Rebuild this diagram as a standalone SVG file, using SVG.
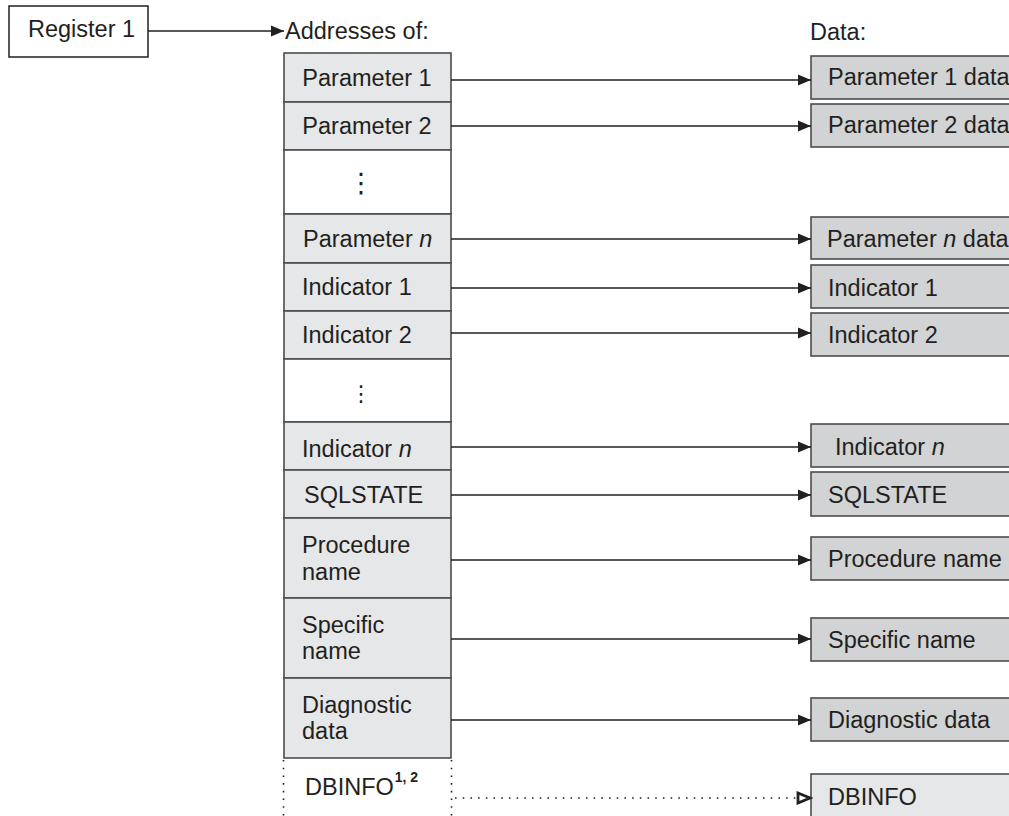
<svg xmlns="http://www.w3.org/2000/svg" width="1009" height="816" viewBox="0 0 1009 816">
<style>
text{font-family:"Liberation Sans",Arial,sans-serif;font-size:23.5px;fill:#231f20}
.l{fill:#e6e7e8;stroke:#4d4d4f;stroke-width:1.6}
.w{fill:#ffffff;stroke:#4d4d4f;stroke-width:1.6}
.r{fill:#d1d3d4;stroke:#4d4d4f;stroke-width:1.6}
.rl{fill:#e6e7e8;stroke:#4d4d4f;stroke-width:1.6}
.c{stroke:#231f20;stroke-width:1.5;fill:none;marker-end:url(#ah)}
.d{stroke:#231f20;stroke-width:1.6;fill:none;stroke-dasharray:1.6 6.1}
.sup{font-size:14px;font-weight:bold}
.el{font-family:"DejaVu Sans",sans-serif}
</style>
<defs>
<marker id="ah" markerUnits="userSpaceOnUse" markerWidth="14" markerHeight="12" refX="13" refY="6" orient="auto">
<path d="M0,0.5 L13,6 L0,11.5 z" fill="#231f20"/>
</marker>
<marker id="ho" markerUnits="userSpaceOnUse" markerWidth="17" markerHeight="14" refX="15" refY="7" orient="auto">
<path d="M2,2 L14,7 L2,12 z" fill="#ffffff" stroke="#231f20" stroke-width="2.8"/>
</marker>
</defs>
<rect width="1009" height="816" fill="#ffffff"/>

<g id="register1">
<rect x="9" y="6" width="139" height="51" fill="#ffffff" stroke="#231f20" stroke-width="1.5"/>
<text x="28" y="37">Register 1</text>
</g>
<g id="addresses-title"><text x="285" y="39">Addresses of:</text></g>
<g id="data-title"><text x="810" y="40">Data:</text></g>

<g id="addr-param1"><rect class="l" x="284" y="53" width="167" height="49"/><text x="367" y="86" text-anchor="middle">Parameter 1</text></g>
<g id="addr-param2"><rect class="l" x="284" y="102" width="167" height="48"/><text x="367" y="134" text-anchor="middle">Parameter 2</text></g>
<g id="addr-dots1"><rect class="w" x="284" y="150" width="167" height="64"/>
<text class="el" x="361" y="192" text-anchor="middle" style="font-size:27px">⋮</text></g>
<g id="addr-paramn"><rect class="l" x="284" y="214" width="167" height="49"/><text x="303" y="247">Parameter <tspan font-style="italic">n</tspan></text></g>
<g id="addr-ind1"><rect class="l" x="284" y="263" width="167" height="48"/><text x="302" y="295">Indicator 1</text></g>
<g id="addr-ind2"><rect class="l" x="284" y="311" width="167" height="48"/><text x="302" y="343">Indicator 2</text></g>
<g id="addr-dots2"><rect class="w" x="284" y="359" width="167" height="63"/>
<text class="el" x="361" y="401" text-anchor="middle" style="font-size:22px">⋮</text></g>
<g id="addr-indn"><rect class="l" x="284" y="422" width="167" height="48"/><text x="302" y="457">Indicator <tspan font-style="italic">n</tspan></text></g>
<g id="addr-sqlstate"><rect class="l" x="284" y="470" width="167" height="48"/><text x="304" y="503">SQLSTATE</text></g>
<g id="addr-procname"><rect class="l" x="284" y="518" width="167" height="80"/><text x="302" y="553">Procedure</text><text x="302" y="580">name</text></g>
<g id="addr-specname"><rect class="l" x="284" y="598" width="167" height="80"/><text x="302" y="633">Specific</text><text x="302" y="659">name</text></g>
<g id="addr-diag"><rect class="l" x="284" y="678" width="167" height="80"/><text x="302" y="713">Diagnostic</text><text x="302" y="739">data</text></g>
<g id="addr-dbinfo">
<line class="d" x1="283.5" y1="760" x2="283.5" y2="816" stroke-dasharray="1.5 3.5"/>
<line class="d" x1="451.5" y1="760" x2="451.5" y2="816" stroke-dasharray="1.5 3.5"/>
<text x="305" y="795">DBINFO<tspan class="sup" dx="1" dy="-13">1, 2</tspan></text>
</g>

<g id="data-param1"><rect class="r" x="811" y="56" width="220" height="43"/><text x="828" y="85">Parameter 1 data</text></g>
<g id="data-param2"><rect class="r" x="811" y="104" width="220" height="43"/><text x="828" y="133">Parameter 2 data</text></g>
<g id="data-paramn"><rect class="r" x="811" y="217" width="220" height="42"/><text x="827" y="247">Parameter <tspan font-style="italic">n</tspan> data</text></g>
<g id="data-ind1"><rect class="r" x="811" y="265" width="220" height="43"/><text x="828" y="296">Indicator 1</text></g>
<g id="data-ind2"><rect class="r" x="811" y="313" width="220" height="43"/><text x="828" y="343">Indicator 2</text></g>
<g id="data-indn"><rect class="r" x="811" y="424" width="220" height="43"/><text x="835" y="455">Indicator <tspan font-style="italic">n</tspan></text></g>
<g id="data-sqlstate"><rect class="r" x="811" y="472" width="220" height="44"/><text x="828" y="503">SQLSTATE</text></g>
<g id="data-procname"><rect class="r" x="811" y="537" width="220" height="43"/><text x="828" y="567">Procedure name</text></g>
<g id="data-specname"><rect class="r" x="811" y="618" width="220" height="43"/><text x="828" y="648">Specific name</text></g>
<g id="data-diag"><rect class="r" x="811" y="698" width="220" height="43"/><text x="828" y="728">Diagnostic data</text></g>
<g id="data-dbinfo"><rect class="rl" x="811" y="774" width="220" height="60"/><text x="828" y="805">DBINFO</text></g>

<g id="connectors">
<line class="c" x1="148" y1="31" x2="284" y2="31"/>
<line class="c" x1="451" y1="80" x2="811" y2="80"/>
<line class="c" x1="451" y1="126" x2="811" y2="126"/>
<line class="c" x1="451" y1="239" x2="811" y2="239"/>
<line class="c" x1="451" y1="288" x2="811" y2="288"/>
<line class="c" x1="451" y1="333" x2="811" y2="333"/>
<line class="c" x1="451" y1="447" x2="811" y2="447"/>
<line class="c" x1="451" y1="495" x2="811" y2="495"/>
<line class="c" x1="451" y1="560" x2="811" y2="560"/>
<line class="c" x1="451" y1="639" x2="811" y2="639"/>
<line class="c" x1="451" y1="720" x2="811" y2="720"/>
<line class="d" x1="455" y1="798" x2="811" y2="798" marker-end="url(#ho)"/>
</g>
</svg>
